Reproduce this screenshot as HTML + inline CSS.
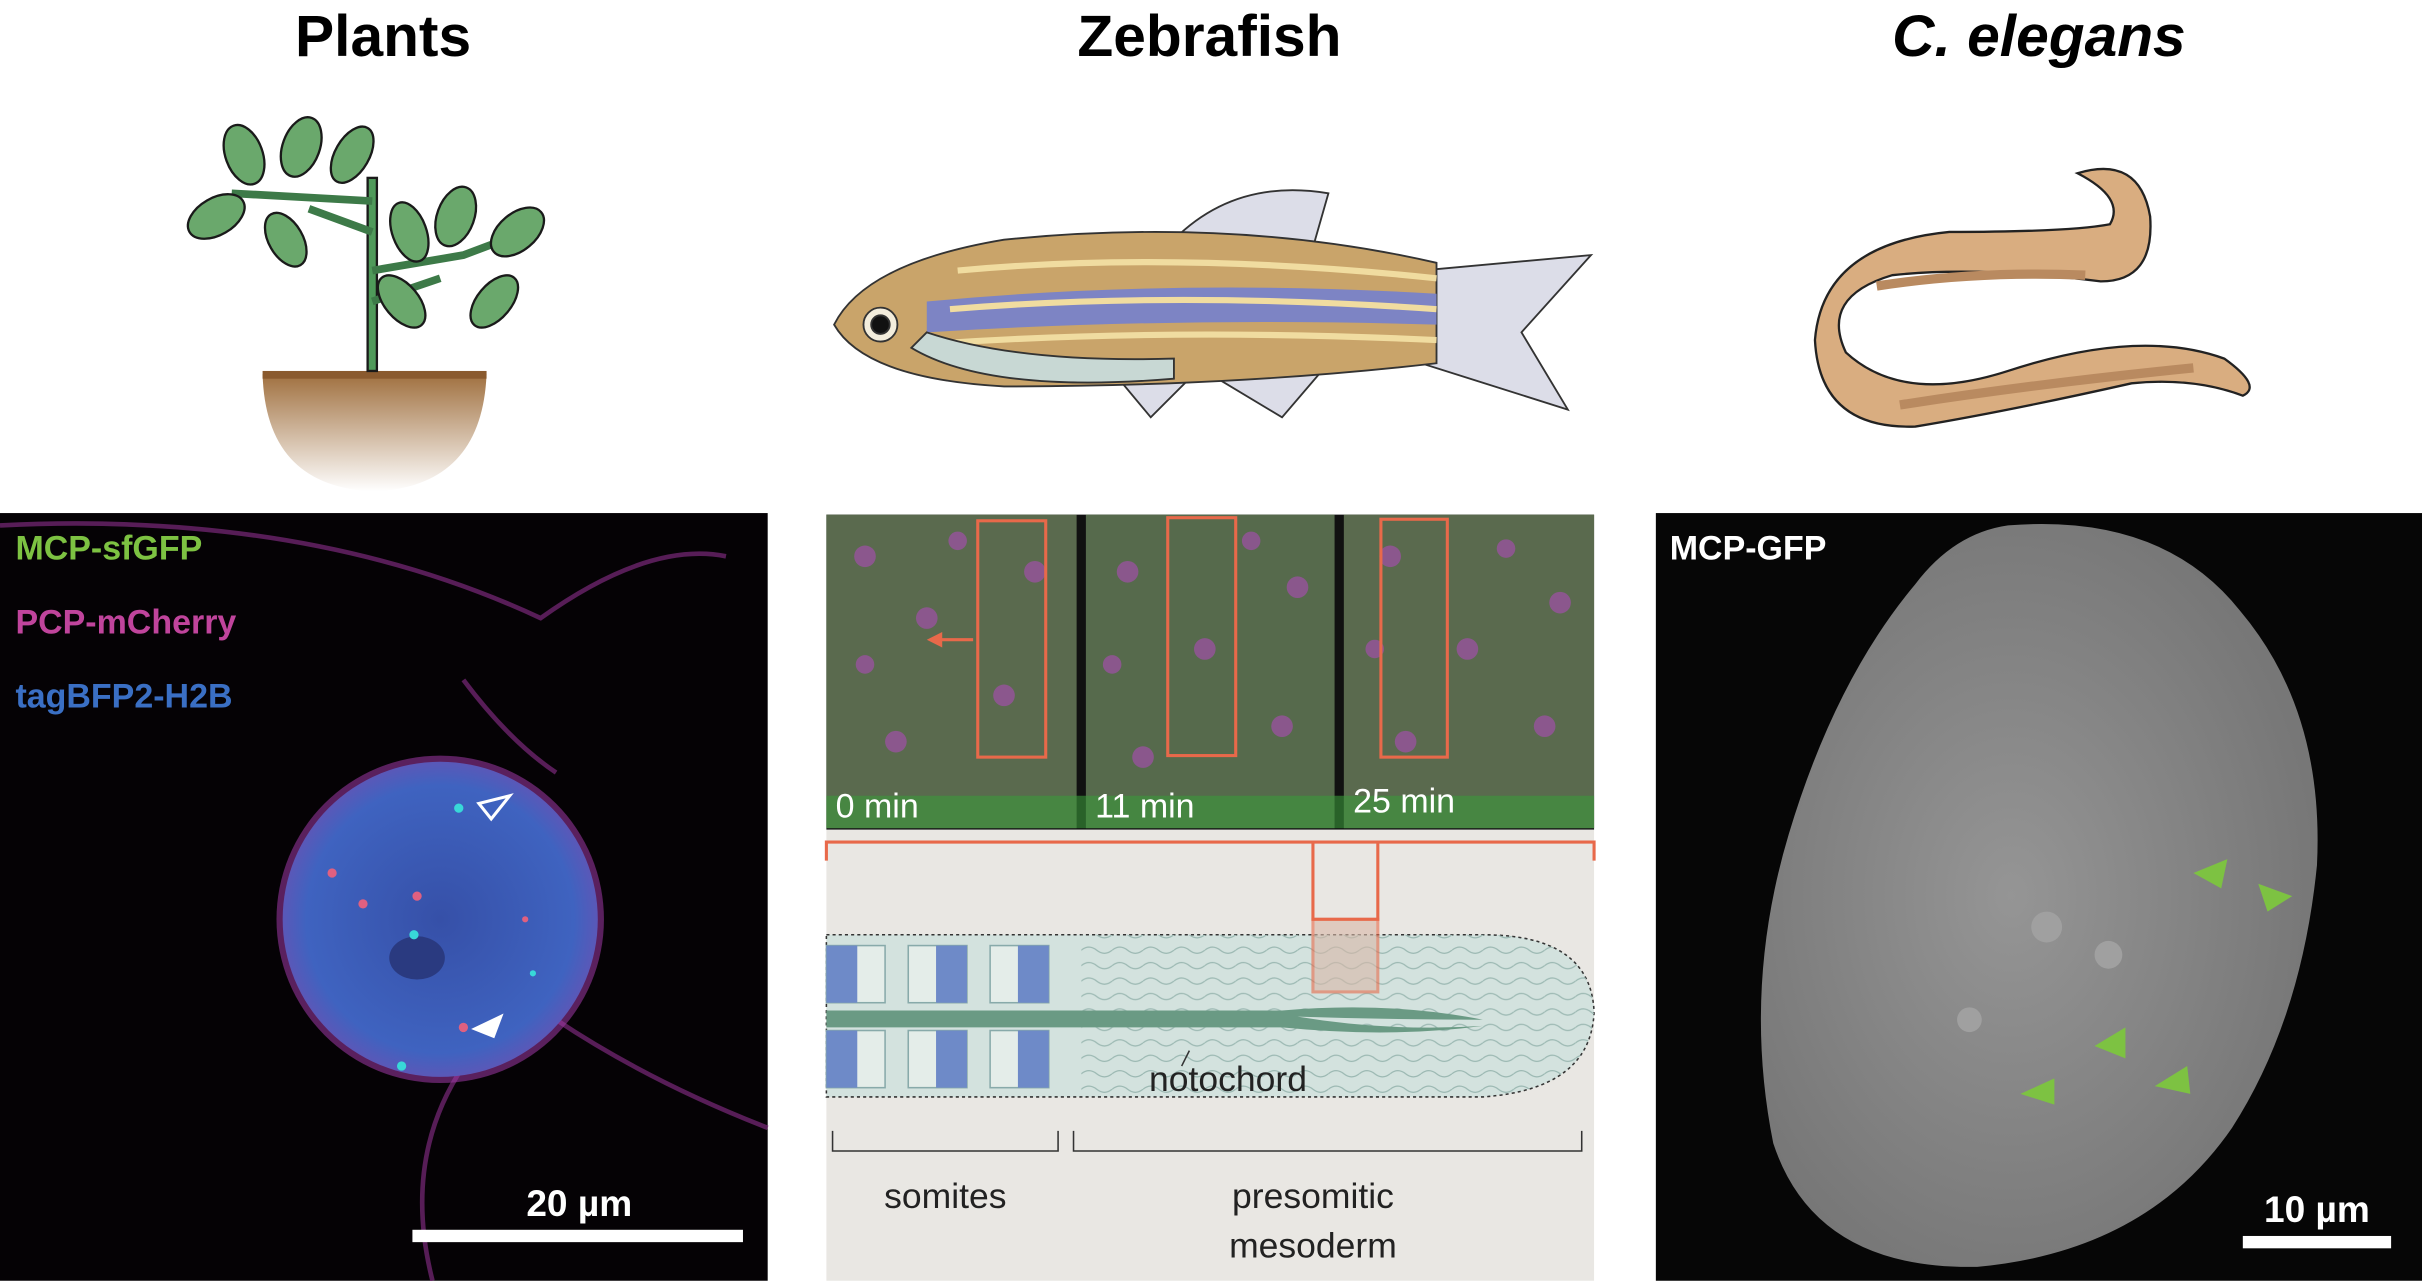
<!DOCTYPE html>
<html><head><meta charset="utf-8"><style>
html,body{margin:0;padding:0;background:#fff;width:2422px;height:1281px;overflow:hidden}
svg{display:block}
text{font-family:"Liberation Sans","DejaVu Sans",sans-serif}
</style></head><body>
<svg width="2422" height="1281" viewBox="0 0 1568 829" xmlns="http://www.w3.org/2000/svg">
<defs>
<radialGradient id="blueg" cx="0.5" cy="0.5" r="0.5"><stop offset="0" stop-color="#3650a8"/><stop offset="0.85" stop-color="#3f63c0"/><stop offset="1" stop-color="#5a58b8"/></radialGradient>
<linearGradient id="potg" x1="0" y1="0" x2="0" y2="1"><stop offset="0" stop-color="#a0703f"/><stop offset="1" stop-color="#fff"/></linearGradient>
<radialGradient id="wormg" cx="0.45" cy="0.5" r="0.55"><stop offset="0" stop-color="#959595"/><stop offset="1" stop-color="#777"/></radialGradient>
<pattern id="wave" width="20" height="10" patternUnits="userSpaceOnUse"><path d="M0 5 Q5 1 10 5 T20 5" fill="none" stroke="#9bb8b2" stroke-width="0.8"/></pattern>
</defs>
<text x="248" y="36" font-size="38" font-weight="bold" text-anchor="middle">Plants</text>
<text x="783" y="36" font-size="38" font-weight="bold" text-anchor="middle">Zebrafish</text>
<text x="1320" y="36" font-size="38" font-weight="bold" font-style="italic" text-anchor="middle">C. elegans</text>

<g stroke="#1a1a1a" stroke-width="1.5">
<path d="M170 242 H315 Q312 315 242 318 Q172 315 170 242 Z" fill="url(#potg)" stroke="none"/>
<rect x="170" y="240" width="145" height="5" fill="#8a5a2e" stroke="none"/>
<rect x="238" y="115" width="6" height="125" fill="#4f9a5a"/>
<path d="M241 175 L300 165 L340 150 M241 195 L285 180 M241 130 L150 125 M241 150 L200 135" fill="none" stroke="#3d7a48" stroke-width="5"/>
<g fill="#6aa86c">
<ellipse cx="158" cy="100" rx="12" ry="20" transform="rotate(-20 158 100)"/>
<ellipse cx="195" cy="95" rx="12" ry="20" transform="rotate(20 195 95)"/>
<ellipse cx="228" cy="100" rx="11" ry="20" transform="rotate(30 228 100)"/>
<ellipse cx="140" cy="140" rx="12" ry="20" transform="rotate(60 140 140)"/>
<ellipse cx="185" cy="155" rx="11" ry="19" transform="rotate(-30 185 155)"/>
<ellipse cx="265" cy="150" rx="11" ry="20" transform="rotate(-20 265 150)"/>
<ellipse cx="295" cy="140" rx="12" ry="20" transform="rotate(20 295 140)"/>
<ellipse cx="335" cy="150" rx="12" ry="20" transform="rotate(50 335 150)"/>
<ellipse cx="260" cy="195" rx="11" ry="20" transform="rotate(-40 260 195)"/>
<ellipse cx="320" cy="195" rx="11" ry="20" transform="rotate(40 320 195)"/>
</g></g>

<g stroke="#333" stroke-width="1.2">
<path d="M760 155 Q800 115 860 125 L850 160 Z" fill="#dcdde8"/>
<path d="M920 175 L1030 165 L985 215 L1015 265 L920 235 Z" fill="#dcdde8"/>
<path d="M780 240 L830 270 L860 235 Z" fill="#dcdde8"/>
<path d="M720 240 L745 270 L775 240 Z" fill="#dcdde8"/>
<path d="M540 210 Q560 170 650 155 Q800 140 930 170 L930 235 Q800 250 650 250 Q560 245 540 210 Z" fill="#c9a46a"/>
<path d="M600 195 Q760 180 930 190 L930 210 Q760 205 600 215 Z" fill="#7d84c4" stroke="none"/>
<path d="M620 175 Q760 162 930 180" fill="none" stroke="#f0dca0" stroke-width="4"/>
<path d="M615 200 Q760 188 930 200" fill="none" stroke="#f0dca0" stroke-width="4"/>
<path d="M610 222 Q760 212 930 220" fill="none" stroke="#f0dca0" stroke-width="4"/>
<path d="M590 225 Q640 255 760 245 L760 232 Q660 235 600 215 Z" fill="#c8d8d4"/>
<circle cx="570" cy="210" r="11" fill="#f3eddc"/><circle cx="570" cy="210" r="6" fill="#111"/>
</g>

<g>
<path d="M1345 112 Q1385 100 1392 140 Q1395 182 1360 182 Q1280 172 1225 178 Q1178 192 1195 228 Q1232 262 1300 240 Q1385 212 1440 232 Q1465 250 1452 256 Q1420 244 1380 248 Q1300 266 1240 276 Q1178 278 1175 220 Q1180 158 1262 150 Q1340 150 1366 145 Q1376 128 1345 112 Z" fill="#d9ad80" stroke="#222" stroke-width="1.5"/>
<path d="M1215 185 Q1280 175 1350 178" fill="none" stroke="#b98a60" stroke-width="6"/>
<path d="M1230 262 Q1320 248 1420 238" fill="none" stroke="#b98a60" stroke-width="6"/>
</g>

<g>
<rect x="0" y="332" width="497" height="497" fill="#050205"/>
<path d="M0 340 Q200 330 350 400 Q420 350 470 360 M300 440 Q330 480 360 500 M300 690 Q260 750 280 829 M360 660 Q420 700 497 730" fill="none" stroke="#7a2a7a" stroke-width="3" opacity="0.7"/>
<circle cx="285" cy="595" r="106" fill="#a03aa8" opacity="0.55"/>
<circle cx="285" cy="595" r="102" fill="url(#blueg)"/>
<ellipse cx="270" cy="620" rx="18" ry="14" fill="#2a3a80"/>
<g fill="#38d8d8"><circle cx="297" cy="523" r="3"/><circle cx="268" cy="605" r="3"/><circle cx="345" cy="630" r="2"/><circle cx="260" cy="690" r="3"/></g>
<g fill="#e06080"><circle cx="215" cy="565" r="3"/><circle cx="235" cy="585" r="3"/><circle cx="270" cy="580" r="3"/><circle cx="300" cy="665" r="3"/><circle cx="340" cy="595" r="2"/></g>
<path d="M310 520 L330 515 L318 530 Z" fill="none" stroke="#fff" stroke-width="2"/>
<path d="M305 666 L326 656 L320 672 Z" fill="#fff"/>
<text x="10" y="362" font-size="22" font-weight="bold" fill="#7dc242">MCP-sfGFP</text>
<text x="10" y="410" font-size="22" font-weight="bold" fill="#c0449c">PCP-mCherry</text>
<text x="10" y="458" font-size="22" font-weight="bold" fill="#3a6fc4">tagBFP2-H2B</text>
<rect x="267" y="796" width="214" height="8" fill="#fff"/>
<text x="375" y="787" font-size="24" font-weight="bold" fill="#fff" text-anchor="middle">20 µm</text>
</g>

<g>
<rect x="535" y="333" width="497" height="204" fill="#111"/>
<rect x="535" y="333" width="162" height="203" fill="#5a6a4e"/>
<rect x="703" y="333" width="161" height="203" fill="#566a4c"/>
<rect x="870" y="333" width="162" height="203" fill="#5a6a4e"/>
<g fill="#a050a8" opacity="0.7">
<circle cx="560" cy="360" r="7"/><circle cx="600" cy="400" r="7"/><circle cx="650" cy="450" r="7"/><circle cx="580" cy="480" r="7"/><circle cx="670" cy="370" r="7"/><circle cx="560" cy="430" r="6"/><circle cx="620" cy="350" r="6"/>
<circle cx="730" cy="370" r="7"/><circle cx="780" cy="420" r="7"/><circle cx="830" cy="470" r="7"/><circle cx="740" cy="490" r="7"/><circle cx="840" cy="380" r="7"/><circle cx="720" cy="430" r="6"/><circle cx="810" cy="350" r="6"/>
<circle cx="900" cy="360" r="7"/><circle cx="950" cy="420" r="7"/><circle cx="1000" cy="470" r="7"/><circle cx="910" cy="480" r="7"/><circle cx="1010" cy="390" r="7"/><circle cx="890" cy="420" r="6"/><circle cx="975" cy="355" r="6"/>
</g>
<rect x="535" y="515" width="497" height="21" fill="#3a9a3a" opacity="0.6"/>
<g fill="none" stroke="#e8694a" stroke-width="2">
<rect x="633" y="337" width="44" height="153"/><rect x="756" y="335" width="44" height="154"/><rect x="894" y="336" width="43" height="154"/>
<path d="M630 414 H605"/>
</g>
<path d="M600 414 L610 409 L610 419 Z" fill="#e8694a"/>
<text x="541" y="529" font-size="22" fill="#fff">0 min</text>
<text x="709" y="529" font-size="22" fill="#fff">11 min</text>
<text x="876" y="526" font-size="22" fill="#fff">25 min</text>
</g>

<g>
<rect x="535" y="537" width="497" height="292" fill="#e9e7e3"/>
<path d="M535 557 V545 H1032 V557 M850 545 V595 H892 V545" fill="none" stroke="#e8694a" stroke-width="2"/>
<path d="M535 605 H960 Q1030 605 1032 655 Q1030 705 960 710 H535 Z" fill="#d3e2de" stroke="#333" stroke-width="1" stroke-dasharray="2 2"/>
<path d="M700 605 H960 Q1030 605 1032 655 Q1030 705 960 710 H700 Z" fill="url(#wave)"/>
<rect x="850" y="595" width="42" height="47" fill="#d9b8a8" opacity="0.6" stroke="#e8694a" stroke-width="2"/>
<g fill="#e4ede9" stroke="#8aa" stroke-width="1">
<rect x="535" y="612" width="38" height="37"/><rect x="588" y="612" width="38" height="37"/><rect x="641" y="612" width="38" height="37"/>
<rect x="535" y="667" width="38" height="37"/><rect x="588" y="667" width="38" height="37"/><rect x="641" y="667" width="38" height="37"/>
</g>
<g fill="#6e8ac8">
<rect x="535" y="612" width="20" height="37"/><rect x="606" y="612" width="20" height="37"/><rect x="659" y="612" width="20" height="37"/>
<rect x="535" y="667" width="20" height="37"/><rect x="606" y="667" width="20" height="37"/><rect x="659" y="667" width="20" height="37"/>
</g>
<path d="M535 654 H830 Q900 648 960 660 Q900 660 840 658 Q900 668 960 664 Q900 672 830 665 H535 Z" fill="#6a9a84"/>
<path d="M770 680 L765 690" stroke="#333" stroke-width="1"/>
<text x="795" y="706" font-size="23" fill="#222" text-anchor="middle">notochord</text>
<path d="M539 732 V745 H685 V732 M695 732 V745 H1024 V732" fill="none" stroke="#333" stroke-width="1"/>
<text x="612" y="782" font-size="23" fill="#222" text-anchor="middle">somites</text>
<text x="850" y="782" font-size="23" fill="#222" text-anchor="middle">presomitic</text>
<text x="850" y="814" font-size="23" fill="#222" text-anchor="middle">mesoderm</text>
</g>

<g>
<rect x="1072" y="332" width="496" height="497" fill="#060606"/>
<path d="M1300 340 Q1400 332 1450 395 Q1505 460 1500 560 Q1490 660 1445 730 Q1390 810 1280 820 Q1175 822 1148 740 Q1128 640 1158 540 Q1188 440 1240 378 Q1265 345 1300 340 Z" fill="url(#wormg)"/>
<g fill="#a0a0a0"><circle cx="1325" cy="600" r="10"/><circle cx="1365" cy="618" r="9"/><circle cx="1275" cy="660" r="8"/></g>
<g fill="#7dc242">
<path d="M1420 565 L1442 556 L1438 575 Z"/><path d="M1462 572 L1484 580 L1468 590 Z"/>
<path d="M1356 677 L1376 665 L1376 685 Z"/><path d="M1395 703 L1416 690 L1418 708 Z"/><path d="M1308 708 L1330 698 L1330 715 Z"/>
</g>
<text x="1081" y="362" font-size="22" font-weight="bold" fill="#fff">MCP-GFP</text>
<rect x="1452" y="800" width="96" height="8" fill="#fff"/>
<text x="1500" y="791" font-size="24" font-weight="bold" fill="#fff" text-anchor="middle">10 µm</text>
</g>
</svg>
</body></html>
